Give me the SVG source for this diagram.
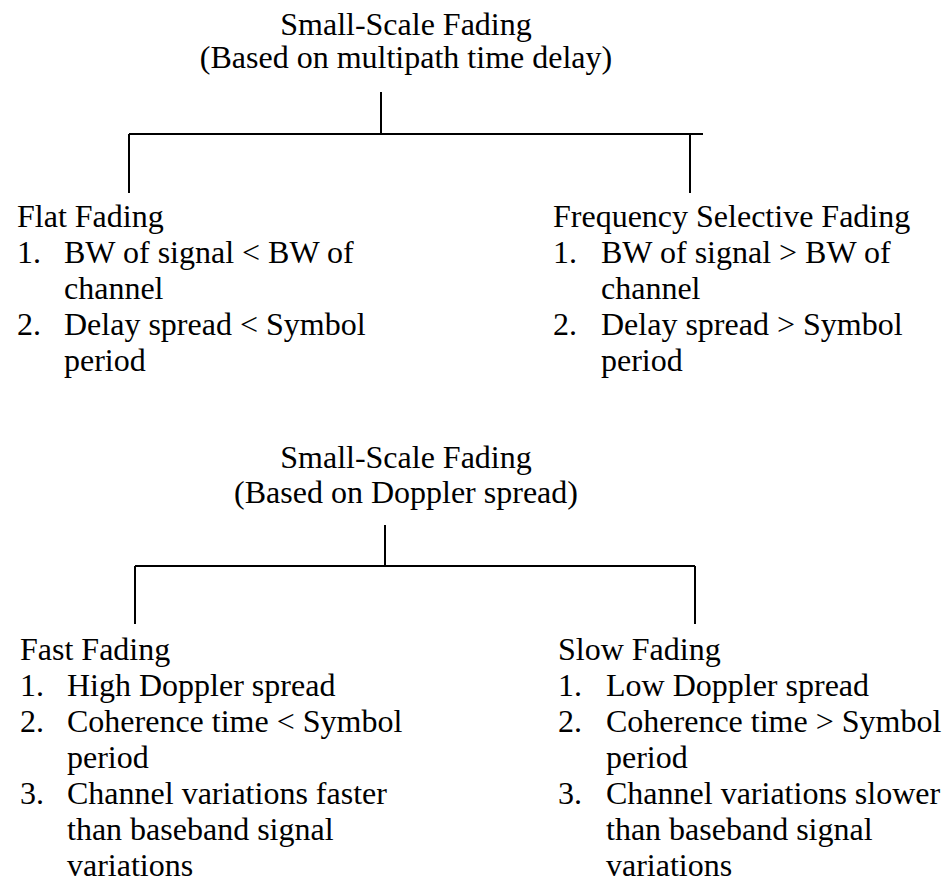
<svg xmlns="http://www.w3.org/2000/svg" width="946" height="884" viewBox="0 0 946 884">
  <style>
    text { font-family: "Liberation Serif", "Times New Roman", serif; font-size: 32px; fill: #000; }
    .mid { text-anchor: middle; }
    .wire { stroke: #000; stroke-width: 2; fill: none; }
  </style>
  <rect width="946" height="884" fill="#fff"/>

  <!-- Classification by multipath time delay -->
  <g id="root-delay">
    <text class="mid" x="406" y="35">Small-Scale Fading</text>
    <text class="mid" x="406" y="68">(Based on multipath time delay)</text>
  </g>
  <g id="flat-fading">
    <text x="17" y="227">Flat Fading</text>
    <text x="17" y="263">1.</text><text x="64" y="263">BW of signal &lt; BW of</text>
    <text x="64" y="299">channel</text>
    <text x="17" y="335">2.</text><text x="64" y="335">Delay spread &lt; Symbol</text>
    <text x="64" y="371">period</text>
  </g>
  <g id="freq-selective-fading">
    <text x="553" y="227">Frequency Selective Fading</text>
    <text x="553" y="263">1.</text><text x="601" y="263">BW of signal &gt; BW of</text>
    <text x="601" y="299">channel</text>
    <text x="553" y="335">2.</text><text x="601" y="335">Delay spread &gt; Symbol</text>
    <text x="601" y="371">period</text>
  </g>

  <!-- Classification by Doppler spread -->
  <g id="root-doppler">
    <text class="mid" x="406" y="468">Small-Scale Fading</text>
    <text class="mid" x="406" y="503">(Based on Doppler spread)</text>
  </g>
  <g id="fast-fading">
    <text x="20" y="660">Fast Fading</text>
    <text x="20" y="696">1.</text><text x="67" y="696">High Doppler spread</text>
    <text x="20" y="732">2.</text><text x="67" y="732">Coherence time &lt; Symbol</text>
    <text x="67" y="768">period</text>
    <text x="20" y="804">3.</text><text x="67" y="804">Channel variations faster</text>
    <text x="67" y="840">than baseband signal</text>
    <text x="67" y="876">variations</text>
  </g>
  <g id="slow-fading">
    <text x="558" y="660">Slow Fading</text>
    <text x="558" y="696">1.</text><text x="606" y="696">Low Doppler spread</text>
    <text x="558" y="732">2.</text><text x="606" y="732">Coherence time &gt; Symbol</text>
    <text x="606" y="768">period</text>
    <text x="558" y="804">3.</text><text x="606" y="804">Channel variations slower</text>
    <text x="606" y="840">than baseband signal</text>
    <text x="606" y="876">variations</text>
  </g>

  <g id="connectors">
    <path class="wire" d="M381 92 V133 M129 134 H703 M129 134 V193 M690 134 V193"/>
    <path class="wire" d="M385 525 V565 M135 566 H695 M135 566 V624 M695 566 V624"/>
  </g>
</svg>
